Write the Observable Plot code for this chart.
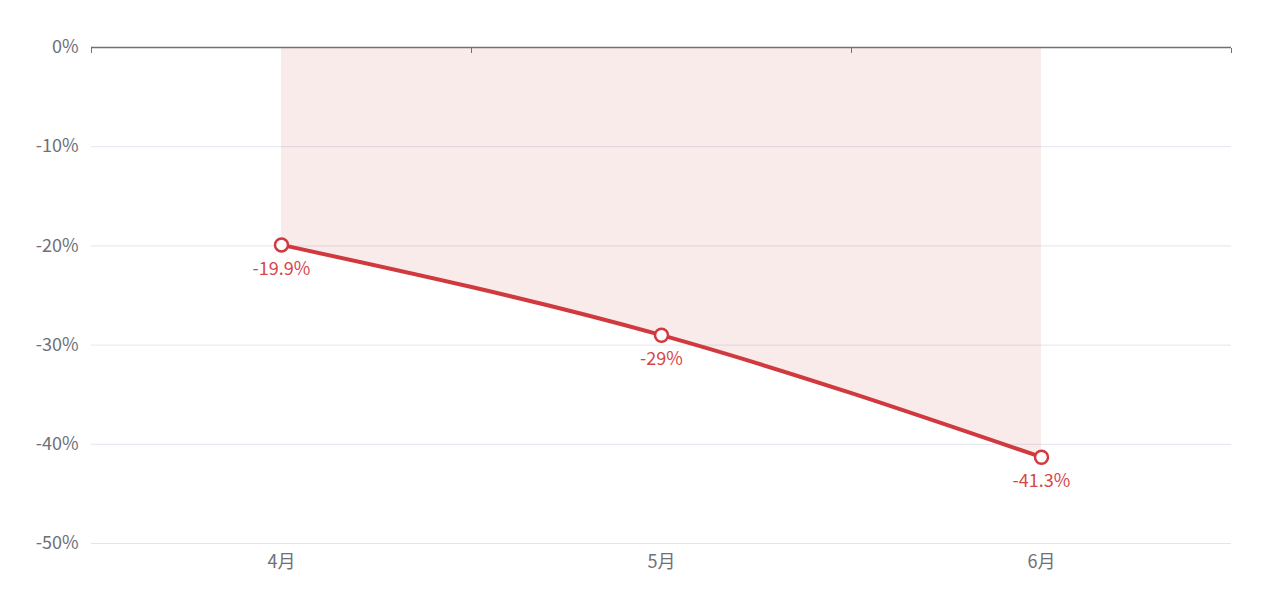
<!DOCTYPE html>
<html>
<head>
<meta charset="utf-8">
<script src="https://cdn.jsdelivr.net/npm/d3@7"></script>
<script src="https://cdn.jsdelivr.net/npm/@observablehq/plot@0.6"></script>
<style>
  html, body { margin: 0; padding: 0; background: #fff; }
  #chart svg { display: block; }
</style>
</head>
<body>
<div id="chart"></div>
<script>
const months = ["4月", "5月", "6月"];
const values = [-19.9, -29, -41.3];
const yTicks = [0, -10, -20, -30, -40, -50];
const xBounds = [-0.5, 0.5, 1.5, 2.5];

const data = months.map((m, i) => ({i, month: m, value: values[i]}));

const red = "#d0393e";
const labelRed = "#d5474b";
const gray = "#6e7079";
const font = "'Noto Sans CJK SC', 'Noto Sans', sans-serif";

const chart = Plot.plot({
  width: 1266,
  height: 604,
  marginLeft: 91,
  marginRight: 35,
  marginTop: 47,
  marginBottom: 61,
  style: {fontFamily: font, fontSize: "18px", background: "#fff"},
  x: {type: "linear", domain: [-0.5, 2.5]},
  y: {domain: [-50, 0]},
  marks: [
    Plot.gridY(yTicks.filter(d => d !== 0), {stroke: "#e0e6f1", strokeOpacity: 1, strokeWidth: 1}),
    Plot.axisY(yTicks, {tickSize: 0, tickPadding: 13, tickFormat: d => d + "%", fill: gray, label: null, fontSize: 18}),
    Plot.areaY(data, {x: "i", y1: 0, y2: "value", fill: red, fillOpacity: 0.1, curve: "monotone-x"}),
    Plot.ruleY([0], {stroke: gray, strokeWidth: 1.3}),
    Plot.axisX(xBounds, {anchor: "top", tickSize: -5, stroke: gray, tickFormat: () => "", label: null}),
    Plot.axisX([0, 1, 2], {anchor: "bottom", tickSize: 0, tickPadding: 12, tickFormat: i => months[i], fill: gray, label: null, fontSize: 18}),
    Plot.lineY(data, {x: "i", y: "value", stroke: red, strokeWidth: 4, curve: "monotone-x"}),
    Plot.dot(data, {x: "i", y: "value", r: 6.5, fill: "#fff", stroke: red, strokeWidth: 2.5}),
    Plot.text(data, {x: "i", y: "value", text: d => d.value + "%", dy: 24, fill: labelRed, fontSize: 18})
  ]
});
document.getElementById("chart").appendChild(chart);
</script>
</body>
</html>
